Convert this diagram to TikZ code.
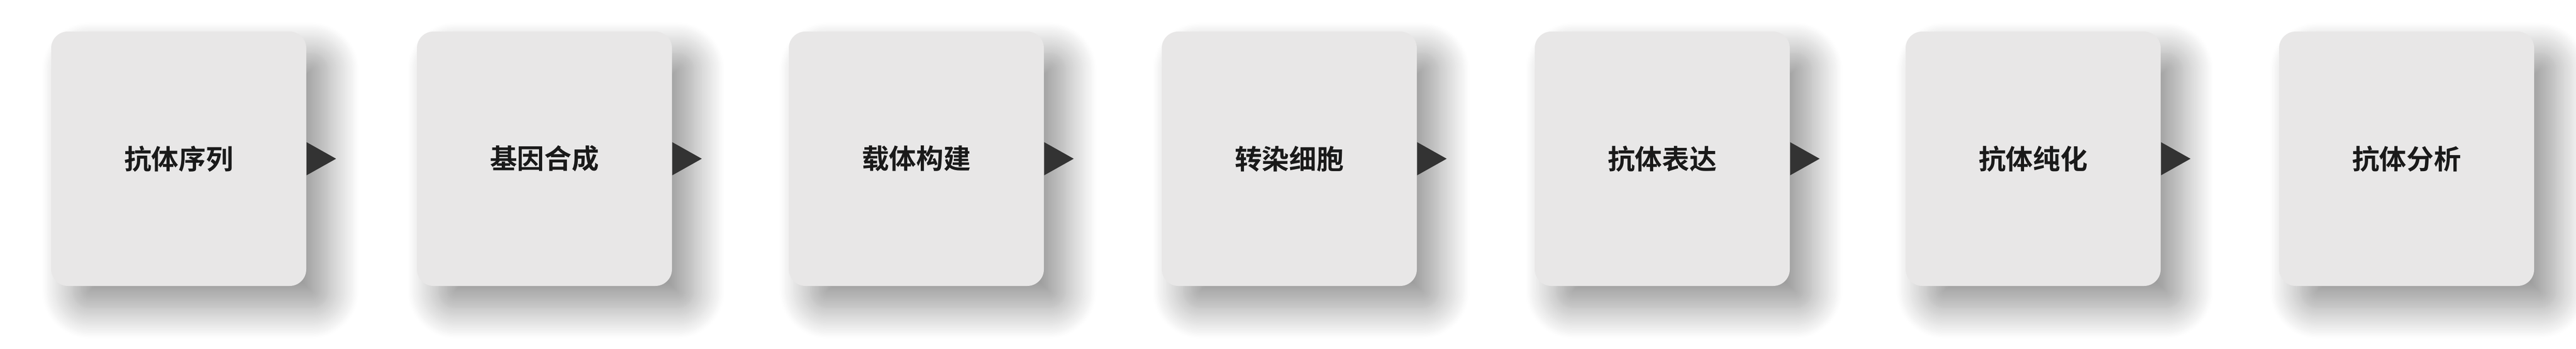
\documentclass[tikz,border=0pt]{standalone}
\usepackage{fontspec}
\newfontfamily\cjkbold{Noto Sans CJK SC Bold}
\usepackage{xcolor}
\usepackage{tikz}
\usetikzlibrary{shadows.blur}
\definecolor{cardgray}{HTML}{E8E7E7}
\definecolor{tipgray}{HTML}{333333}
\definecolor{labelblack}{HTML}{1A1A1A}
\tikzset{
  card/.style={rectangle, rounded corners=0.32cm, fill=cardgray,
    minimum width=4.93cm, minimum height=4.92cm, inner sep=0pt,
    text=labelblack, font=\cjkbold\fontsize{15pt}{18pt}\selectfont,
    blur shadow={shadow xshift=0.42cm, shadow yshift=-0.42cm,
      shadow blur radius=0.6cm, shadow blur steps=25, shadow opacity=42}},
  tip/.style={fill=tipgray}
}

\begin{document}
\begin{tikzpicture}
\useasboundingbox (0,0) rectangle (49.8,6.74);
\node[card] (seq) at (3.455,3.67) {抗体序列};
\node[card] (syn) at (10.525,3.67) {基因合成};
\node[card] (vec) at (17.715,3.67) {载体构建};
\node[card] (tra) at (24.925,3.67) {转染细胞};
\node[card] (exp) at (32.135,3.67) {抗体表达};
\node[card] (pur) at (39.305,3.67) {抗体纯化};
\node[card] (ana) at (46.525,3.67) {抗体分析};

\fill[tip] ([yshift=3.2mm]seq.east) -- ++(0.57,-0.32) -- ++(-0.57,-0.32) -- cycle;
\fill[tip] ([yshift=3.2mm]syn.east) -- ++(0.57,-0.32) -- ++(-0.57,-0.32) -- cycle;
\fill[tip] ([yshift=3.2mm]vec.east) -- ++(0.57,-0.32) -- ++(-0.57,-0.32) -- cycle;
\fill[tip] ([yshift=3.2mm]tra.east) -- ++(0.57,-0.32) -- ++(-0.57,-0.32) -- cycle;
\fill[tip] ([yshift=3.2mm]exp.east) -- ++(0.57,-0.32) -- ++(-0.57,-0.32) -- cycle;
\fill[tip] ([yshift=3.2mm]pur.east) -- ++(0.57,-0.32) -- ++(-0.57,-0.32) -- cycle;

\end{tikzpicture}
\end{document}
